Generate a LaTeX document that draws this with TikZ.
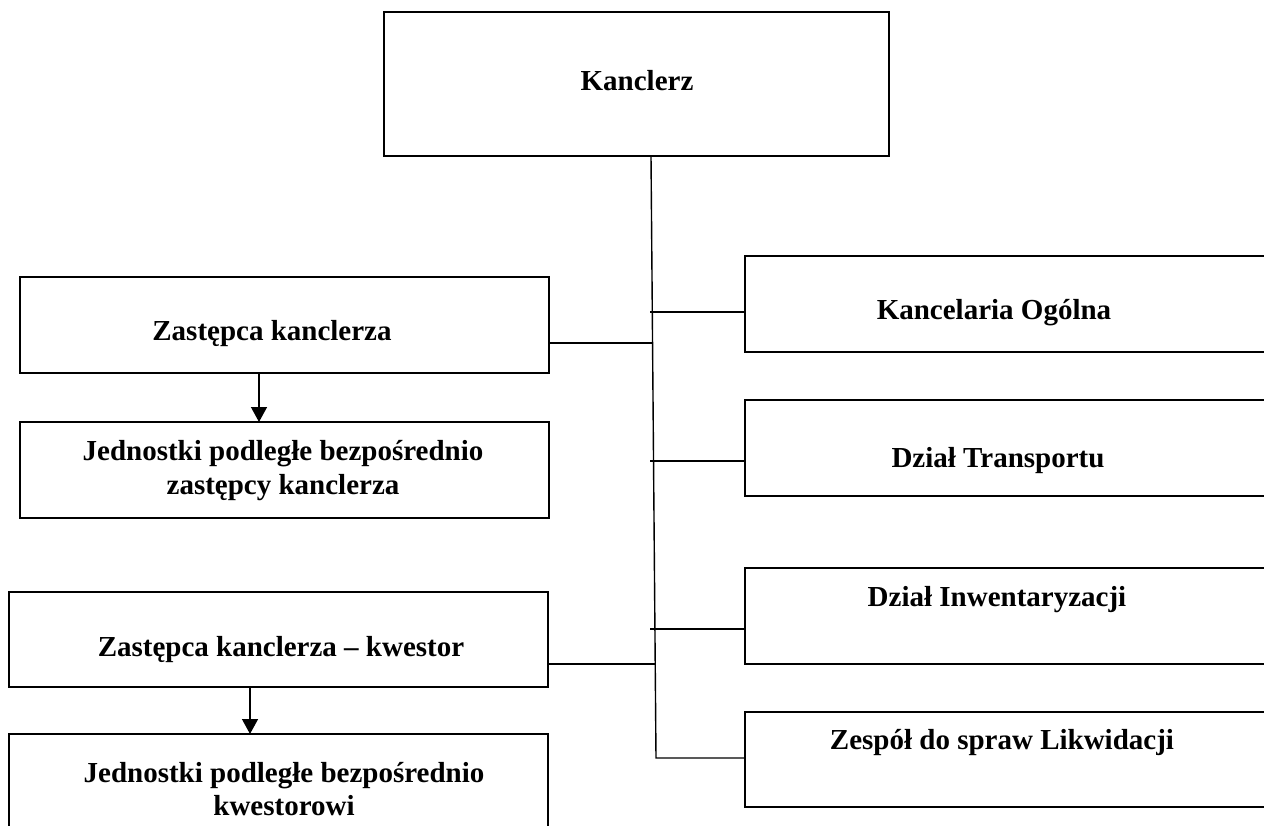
\documentclass[tikz,border=0pt]{standalone}
\usepackage{fontspec}
\setmainfont{Liberation Serif}
\usetikzlibrary{arrows.meta}
\tikzset{
  box/.style={draw, line width=1.7pt, rectangle, anchor=north west, inner sep=0pt, outer sep=0pt},
  lbl/.style={anchor=base, inner sep=0pt, font=\fontsize{29}{34}\selectfont\bfseries},
  conn/.style={line width=1.4pt},
  arr/.style={line width=1.4pt, -{Triangle[width=16pt,length=15pt]}}
}
\begin{document}
\begin{tikzpicture}[x=1pt,y=-1pt]
\useasboundingbox (0,0) rectangle (1264,825);
\clip (0,0) rectangle (1264,825);
% boxes
\node[box, minimum width=505pt, minimum height=144pt] (K) at (384,12) {};
\node[box, minimum width=529pt, minimum height=96pt] (Z1) at (20,277) {};
\node[box, minimum width=529pt, minimum height=96pt] (J1) at (20,422) {};
\node[box, minimum width=539pt, minimum height=95pt] (Z2) at (9,592) {};
\node[box, minimum width=539pt, minimum height=120pt] (J2) at (9,734) {};
\node[box, minimum width=560pt, minimum height=96pt] (R1) at (745,256) {};
\node[box, minimum width=560pt, minimum height=96pt] (R2) at (745,400) {};
\node[box, minimum width=560pt, minimum height=96pt] (R3) at (745,568) {};
\node[box, minimum width=560pt, minimum height=95pt] (R4) at (745,712) {};
% labels
\node[lbl] (tK) at (637,90) {Kanclerz};
\node[lbl] (tZ1) at (272,340) {Zastępca kanclerza};
\node[lbl] (tJ1a) at (283,460) {Jednostki podległe bezpośrednio};
\node[lbl] (tJ1b) at (283,494) {zastępcy kanclerza};
\node[lbl] (tZ2) at (281,656) {Zastępca kanclerza – kwestor};
\node[lbl] (tJ2a) at (284,782) {Jednostki podległe bezpośrednio};
\node[lbl] (tJ2b) at (284,815) {kwestorowi};
\node[lbl] (tR1) at (994,319) {Kancelaria Ogólna};
\node[lbl] (tR2) at (998,467) {Dział Transportu};
\node[lbl] (tR3) at (997,606) {Dział Inwentaryzacji};
\node[lbl] (tR4) at (1002,749) {Zespół do spraw Likwidacji};
% trunk
\coordinate (t0) at (651,156);
\coordinate (t1) at (656,758);
\draw[conn] (t0) -- (t1) -- (R4.west |- t1);
% ticks to right boxes
\coordinate (a1) at (650,312);
\coordinate (a2) at (650,461);
\coordinate (a3) at (650,629);
\draw[conn] (a1) -- ([xshift=1pt]R1.west |- a1);
\draw[conn] (a2) -- ([xshift=1pt]R2.west |- a2);
\draw[conn] (a3) -- ([xshift=1pt]R3.west |- a3);
% left connectors
\coordinate (b1) at (652,343);
\coordinate (b2) at (656,664);
\draw[conn] (Z1.east |- b1) -- (b1);
\draw[conn] (Z2.east |- b2) -- (b2);
% arrows
\draw[arr] (Z1.south -| 259,0) -- (J1.north -| 259,0);
\draw[arr] (Z2.south -| 250,0) -- (J2.north -| 250,0);
\end{tikzpicture}
\end{document}
